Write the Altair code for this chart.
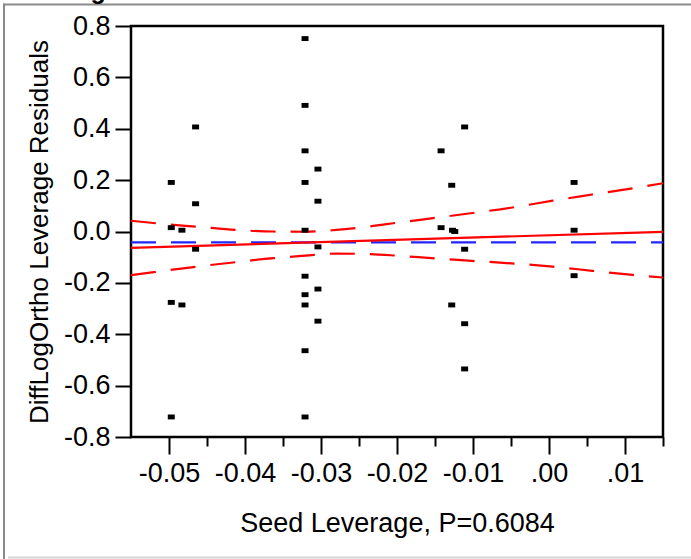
import altair as alt
import pandas as pd

# ---- data ----
pt_x = [-0.0497, -0.0497, -0.0497, -0.0497,
        -0.0483, -0.0483,
        -0.0465, -0.0465, -0.0465,
        -0.0321, -0.0321, -0.0321, -0.0321, -0.0321, -0.0321, -0.0321, -0.0321, -0.0321, -0.0321,
        -0.0304, -0.0304, -0.0304, -0.0304, -0.0304,
        -0.0142, -0.0142,
        -0.0128, -0.0127, -0.0124, -0.0128,
        -0.0111, -0.0111, -0.0111, -0.0111,
        0.0033, 0.0033, 0.0033]
pt_y = [0.191, 0.015, -0.276, -0.722,
        0.005, -0.286,
        0.407, 0.108, -0.069,
        0.751, 0.491, 0.314, 0.191, 0.005, -0.174, -0.246, -0.286, -0.464, -0.722,
        0.243, 0.118, -0.060, -0.224, -0.349,
        0.314, 0.015,
        0.180, 0.005, 0.000, -0.286,
        0.407, -0.069, -0.359, -0.535,
        0.191, 0.005, -0.172]

fit_x = [-0.055, 0.015]
fit_y = [-0.0636, -0.0014]

mean_y = -0.042

band_x = [-0.0550, -0.0499, -0.0464, -0.0411, -0.0363, -0.0321, -0.0280, -0.0235,
          -0.0200, -0.0150, -0.0098, -0.0045, 0.0005, 0.0057, 0.0110, 0.0150]
upper_y = [0.042, 0.027, 0.019, 0.006, 0.000, -0.001, 0.006, 0.020,
           0.034, 0.053, 0.073, 0.095, 0.120, 0.144, 0.168, 0.188]
lower_y = [-0.170, -0.150, -0.137, -0.119, -0.104, -0.094, -0.086, -0.088,
           -0.094, -0.105, -0.115, -0.125, -0.137, -0.153, -0.169, -0.179]

x_ticks = [-0.05, -0.045, -0.04, -0.035, -0.03, -0.025, -0.02, -0.015,
           -0.01, -0.005, 0.0, 0.005, 0.01, 0.015]
y_ticks = [-0.8, -0.6, -0.4, -0.2, 0.0, 0.2, 0.4, 0.6, 0.8]

x_title = "Seed Leverage, P=0.6084"
y_title = "DiffLogOrtho Leverage Residuals"
top_title = "Leverage Plot"

FONT = "Liberation Sans"

# ---- tables ----
df_pts = pd.DataFrame({"x": pt_x, "y": pt_y})
df_fit = pd.DataFrame({"x": fit_x, "y": fit_y})
df_mean = pd.DataFrame({"x": fit_x, "y": [mean_y, mean_y]})
df_up = pd.DataFrame({"x": band_x, "y": upper_y})
df_lo = pd.DataFrame({"x": band_x, "y": lower_y})
df_one = pd.DataFrame({"t": [top_title]})

major_test = "abs(datum.value*100 - round(datum.value*100)) < 0.01"

x_axis = alt.Axis(
    values=x_ticks,
    title=x_title,
    labelExpr=("(" + major_test + ") ? (datum.value < 0 ? '-' + format(-datum.value, '.2f') "
               ": replace(format(datum.value, '.2f'), '0.', '.')) : ''"),
    tickSize={"condition": {"test": major_test, "value": 17}, "value": 9},
    tickColor="black", tickWidth=2,
    labelFont=FONT, labelFontSize=27, labelColor="black",
    titleFont=FONT, titleFontSize=27, titleColor="black", titleFontWeight="normal",
    labelPadding=6,
    labelOverlap=False,
    labelFlush=False,
    labelBound=False,
    grid=False,
    domain=False,
    titleX=266,
    titleY=94,
    titleBaseline="alphabetic",
    titleAlign="center",
)
y_axis = alt.Axis(
    values=y_ticks,
    title=y_title,
    labelExpr="datum.value < 0 ? '-' + format(-datum.value, '.1f') : format(datum.value, '.1f')",
    tickSize=16,
    tickColor="black", tickWidth=2,
    labelFont=FONT, labelFontSize=27, labelColor="black",
    titleFont=FONT, titleFontSize=26, titleColor="black", titleFontWeight="normal",
    labelPadding=5,
    labelOverlap=False,
    labelFlush=False,
    grid=False,
    domain=False,
    titleX=-84,
    titleY=205.5,
    titleAngle=-90,
    titleBaseline="alphabetic",
    titleAlign="center",
)

X = alt.X("x:Q", scale=alt.Scale(domain=[-0.055, 0.015], nice=False, zero=False), axis=x_axis)
Y = alt.Y("y:Q", scale=alt.Scale(domain=[-0.8, 0.8], nice=False, zero=False), axis=y_axis)

frame_top = alt.Chart(df_one).mark_rule(color="#8a8a8a", strokeWidth=2).encode(
    x=alt.value(-128), x2=alt.value(560), y=alt.value(-21.5))
frame_left = alt.Chart(df_one).mark_rule(color="#8a8a8a", strokeWidth=2).encode(
    x=alt.value(-127), y=alt.value(-22.5), y2=alt.value(533))
frame_bottom = alt.Chart(df_one).mark_rule(color="#d4d4d4", strokeWidth=2).encode(
    x=alt.value(-123), x2=alt.value(560), y=alt.value(531.5))
top_text = alt.Chart(df_one).mark_text(
    align="left", baseline="alphabetic", font=FONT, fontSize=25, fontWeight="bold", color="black"
).encode(text="t:N", x=alt.value(-121), y=alt.value(-27))

mean_line = alt.Chart(df_mean).mark_line(color="#2424ff", strokeWidth=2.2, strokeDash=[25, 15]).encode(
    x=X, y=Y)
upper = alt.Chart(df_up).mark_line(color="#ff0000", strokeWidth=2.2, strokeDash=[25, 15],
                                   interpolate="monotone", clip=True).encode(x=X, y=Y)
lower = alt.Chart(df_lo).mark_line(color="#ff0000", strokeWidth=2.2, strokeDash=[25, 15],
                                   interpolate="monotone", clip=True).encode(x=X, y=Y)
fit = alt.Chart(df_fit).mark_line(color="#ff0000", strokeWidth=2.2).encode(x=X, y=Y)
pts = alt.Chart(df_pts).mark_point(
    shape="M-1,-0.7L1,-0.7L1,0.7L-1,0.7Z", size=49, filled=True, color="black", opacity=1
).encode(x=X, y=Y)

chart = alt.layer(
    frame_top, frame_left, frame_bottom, top_text,
    mean_line, upper, lower, fit, pts
).properties(
    width=532,
    height=411,
    padding={"left": 131, "top": 26, "right": 28, "bottom": 122},
    autosize=alt.AutoSizeParams(type="none"),
    background="white",
).configure_view(
    stroke="black", strokeWidth=2.5
)

chart.save("out.html", embed_options={"renderer": "svg", "actions": False})
